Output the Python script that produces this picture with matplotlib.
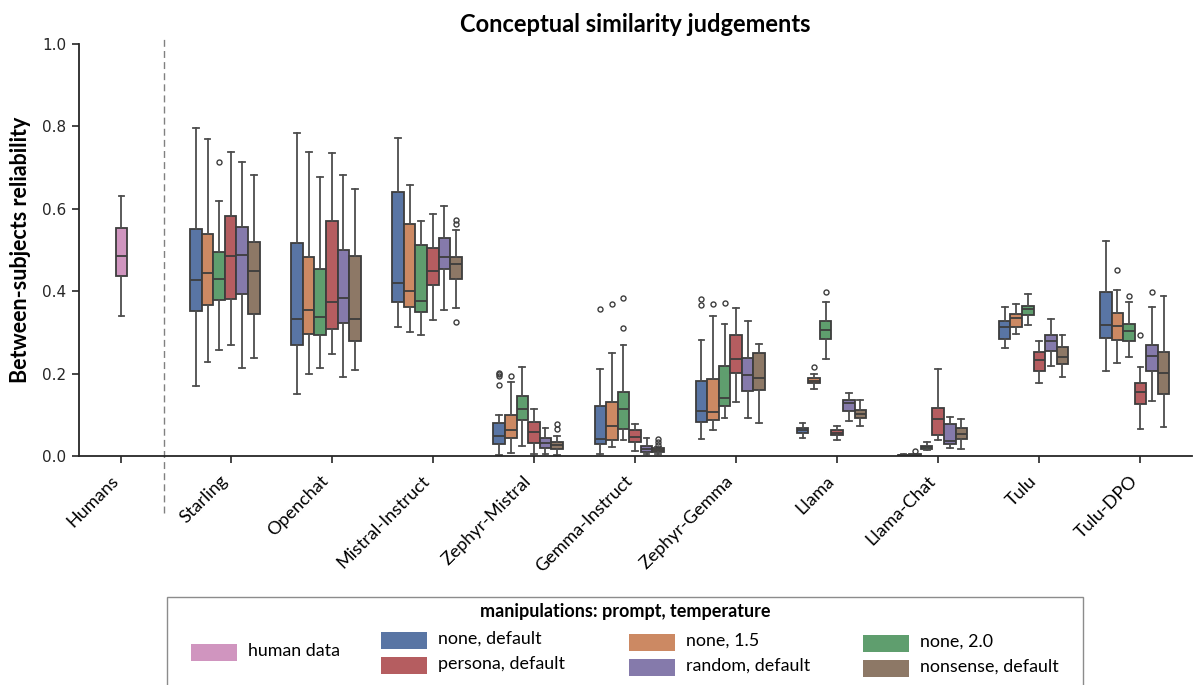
import colorsys
import matplotlib
matplotlib.use('Agg')
import matplotlib.pyplot as plt
from matplotlib.colors import to_rgb
from matplotlib.patches import Rectangle

plt.rcParams['font.family'] = ['Lato', 'DejaVu Sans']

# ---- data ----
models = ['Starling', 'Openchat', 'Mistral-Instruct', 'Zephyr-Mistral', 'Gemma-Instruct',
          'Zephyr-Gemma', 'Llama', 'Llama-Chat', 'Tulu', 'Tulu-DPO']
hues = ['none, default', 'none, 1.5', 'none, 2.0', 'persona, default', 'random, default',
        'nonsense, default']
hue_colors = ['#4C72B0', '#DD8452', '#55A868', '#C44E52', '#8172B3', '#937860']
human_color = '#DA8BC3'

# one row per model, one value per hue
whis_hi = [
    [.795, .769, .620, .739, .714, .683],
    [.783, .738, .676, .736, .683, .649],
    [.771, .657, .570, .587, .608, .549],
    [.099, .180, .215, .114, .068, .049],
    [.212, .250, .270, .078, .044, .023],
    [.282, .341, .320, .359, .328, .272],
    [.079, .200, .375, .074, .152, .135],
    [.005, .006, .035, .210, .095, .089],
    [.362, .369, .392, .280, .333, .293],
    [.523, .404, .374, .217, .362, .388],
]
q3 = [
    [.550, .540, .496, .583, .555, .519],
    [.516, .484, .455, .571, .500, .485],
    [.640, .564, .511, .506, .528, .484],
    [.079, .100, .146, .083, .044, .035],
    [.122, .130, .155, .064, .025, .019],
    [.182, .188, .219, .293, .237, .249],
    [.067, .189, .328, .062, .135, .112],
    [.003, .004, .025, .117, .078, .068],
    [.328, .344, .363, .252, .294, .264],
    [.398, .348, .321, .176, .269, .252],
]
medians = [
    [.426, .445, .429, .485, .487, .448],
    [.333, .355, .337, .373, .383, .333],
    [.419, .401, .376, .450, .484, .466],
    [.049, .063, .115, .058, .031, .026],
    [.041, .074, .113, .046, .018, .015],
    [.110, .108, .140, .235, .196, .190],
    [.062, .183, .306, .057, .128, .103],
    [.002, .003, .022, .089, .037, .054],
    [.313, .336, .357, .233, .279, .240],
    [.319, .316, .303, .155, .243, .202],
]
q1 = [
    [.351, .367, .379, .381, .392, .345],
    [.269, .296, .294, .308, .322, .279],
    [.375, .362, .349, .415, .454, .430],
    [.028, .044, .087, .031, .019, .018],
    [.028, .039, .066, .035, .009, .010],
    [.082, .087, .122, .202, .157, .159],
    [.056, .176, .283, .052, .110, .093],
    [.001, .002, .018, .051, .029, .042],
    [.284, .312, .343, .206, .256, .224],
    [.286, .282, .278, .126, .206, .150],
]
whis_lo = [
    [.171, .227, .258, .269, .214, .238],
    [.151, .200, .214, .248, .191, .209],
    [.312, .302, .294, .330, .354, .359],
    [.003, .008, .024, .006, .005, .003],
    [.006, .021, .039, .013, .005, .006],
    [.042, .063, .093, .131, .092, .079],
    [.044, .162, .236, .039, .084, .073],
    [.000, .001, .014, .039, .019, .018],
    [.262, .296, .319, .177, .218, .191],
    [.207, .226, .241, .066, .133, .070],
]
# outliers: (model index, hue index) -> values
fliers = {
    (0, 2): [.714],
    (2, 5): [.573, .563, .326],
    (3, 0): [.202, .198, .193, .173],
    (3, 1): [.193],
    (3, 5): [.078, .065],
    (4, 0): [.358],
    (4, 1): [.369],
    (4, 2): [.383, .311],
    (4, 5): [.042, .034, .027],
    (5, 0): [.380, .366],
    (5, 1): [.369],
    (5, 2): [.371],
    (6, 1): [.217],
    (6, 2): [.398],
    (7, 1): [.012],
    (9, 1): [.451],
    (9, 2): [.389],
    (9, 3): [.293],
    (9, 4): [.398],
}
# human data box
human_stats = dict(med=.486, q1=.438, q3=.554, whislo=.340, whishi=.632)


def desat(c, prop=0.75):
    h, l, s = colorsys.rgb_to_hls(*to_rgb(c))
    return colorsys.hls_to_rgb(h, l, s * prop)


box_fill = [desat(c) for c in hue_colors]
human_fill = desat(human_color)

edge = '#3d3d3d'
slot = 0.8 / 7
human_x = -1.08

fig = plt.figure(figsize=(12, 6.85), dpi=100)
ax = fig.add_axes([79 / 1200, 1 - 456 / 685, (1192 - 79) / 1200, (456 - 44) / 685])


def draw(stats, positions, colors):
    bp = ax.bxp(stats, positions=positions, widths=slot, patch_artist=True,
                showfliers=True, manage_ticks=False,
                boxprops=dict(edgecolor=edge, linewidth=1.3),
                medianprops=dict(color=edge, linewidth=1.3),
                whiskerprops=dict(color='#4d4d4d', linewidth=1.3),
                capprops=dict(color='#4d4d4d', linewidth=1.3),
                flierprops=dict(marker='o', markersize=3.6, markerfacecolor='none',
                                markeredgecolor=edge, markeredgewidth=1.0))
    for patch, col in zip(bp['boxes'], colors):
        patch.set_facecolor(col)


# humans
hs = dict(human_stats)
hs['fliers'] = []
draw([hs], [human_x], [human_fill])

# models: 7 dodge slots per group, the last one (human data) left empty
for h in range(len(hues)):
    stats, pos = [], []
    for m in range(len(models)):
        stats.append(dict(med=medians[m][h], q1=q1[m][h], q3=q3[m][h],
                          whislo=whis_lo[m][h], whishi=whis_hi[m][h],
                          fliers=fliers.get((m, h), [])))
        pos.append(m + (h - 3) * slot)
    draw(stats, pos, [box_fill[h]] * len(models))

# separator between humans and models
ax.axvline(-0.66, ymin=-0.138, ymax=1.017, color='#808080', linestyle=(0, (5, 3)),
           linewidth=1.0, clip_on=False)

ax.set_xlim(-1.5, 9.51)
ax.set_ylim(0, 1.0)
ax.set_xticks([human_x] + list(range(len(models))))
ax.set_xticklabels(['Humans'] + models, rotation=45, ha='right', fontsize=13)
ax.set_yticks([0, 0.2, 0.4, 0.6, 0.8, 1.0])
ax.set_yticklabels(['0.0', '0.2', '0.4', '0.6', '0.8', '1.0'], family='DejaVu Sans',
                   fontsize=11, color='#262626')
ax.tick_params(axis='both', length=5, width=1.2, color='#262626', pad=4)
ax.tick_params(axis='x', pad=7)
for s in ['top', 'right']:
    ax.spines[s].set_visible(False)
for s in ['left', 'bottom']:
    ax.spines[s].set_linewidth(1.3)
    ax.spines[s].set_color('#262626')

ax.set_ylabel('Between-subjects reliability', fontsize=15.5, fontweight='bold')
ax.yaxis.set_label_coords(-0.043, 0.5)
fig.text(635 / 1200, 1 - 24 / 685, 'Conceptual similarity judgements', ha='center',
         va='center', fontsize=17, fontweight='bold')

# ---- legend, drawn by hand so the human entry sits between the two rows ----
W, H = 1200, 685


def fx(px):
    return px / W


def fy(py):
    return 1 - py / H


fig.patches.append(Rectangle((fx(167), fy(705)), fx(1083) - fx(167), fy(597) - fy(705),
                             transform=fig.transFigure, facecolor='white',
                             edgecolor='#8c8c8c', linewidth=1.0, zorder=1))
fig.text(fx(625), fy(612), 'manipulations: prompt, temperature', ha='center', va='center',
         fontsize=13, fontweight='bold')

entries = [('human data', human_fill, 191, 652)]
cols = [(381, 640), (629, 642), (863, 643)]
for h in range(len(hues)):
    cx, cy = cols[h % 3]
    row = h // 3
    entries.append((hues[h], box_fill[h], cx, cy + row * 25))
for label, col, px, py in entries:
    fig.patches.append(Rectangle((fx(px), fy(py + 8.5)), fx(46), 17 / H,
                                 transform=fig.transFigure, facecolor=col,
                                 edgecolor='none', zorder=2))
    fig.text(fx(px + 57), fy(py - 1), label, ha='left', va='center', fontsize=12.9,
             zorder=3)

fig.savefig('out.png', dpi=100)
